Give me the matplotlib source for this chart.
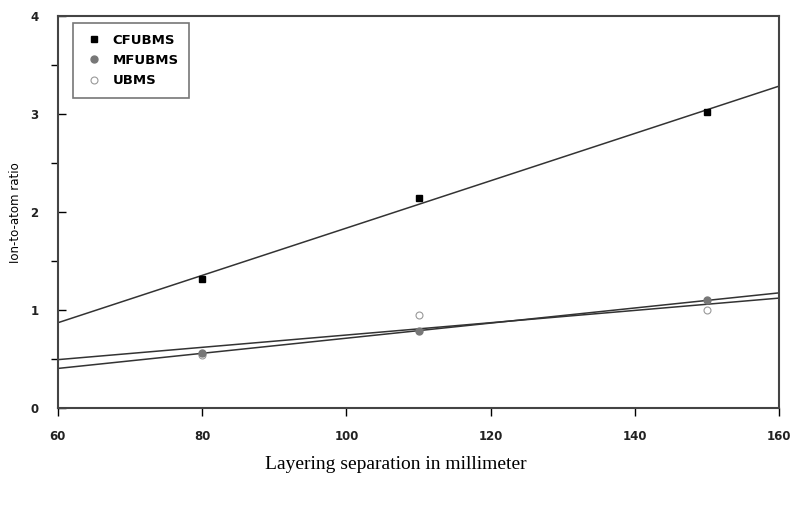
import matplotlib.pyplot as plt
import numpy as np

# Layering separation (mm) and measured ion-to-atom ratios
separation = [80, 110, 150]
cfubms = [1.32, 2.14, 3.02]
mfubms = [0.56, 0.79, 1.10]
ubms = [0.54, 0.95, 1.00]

fig = plt.figure(figsize=(7.92, 5.07), dpi=100)
ax = fig.add_axes([0.073, 0.195, 0.911, 0.773])

xfit = np.array([60, 160])

# Linear fits drawn first, markers on top
for y in (cfubms, mfubms, ubms):
    k, b = np.polyfit(separation, y, 1)
    ax.plot(xfit, k * xfit + b, color='#333333', lw=1.1, zorder=2)

ax.plot(separation, cfubms, 's', color='black', ms=5, label='CFUBMS', zorder=4)
ax.plot(separation, mfubms, 'o', color='#777777', ms=5, label='MFUBMS', zorder=4)
ax.plot(separation, ubms, 'o', mfc='white', mec='#999999', ms=5, mew=0.8,
        label='UBMS', zorder=3)

ax.set_xlim(60, 160)
ax.set_ylim(0, 4)
ax.set_xticks([60, 80, 100, 120, 140, 160])
ax.set_yticks([0, 1, 2, 3, 4])
ax.set_yticks([0.5, 1.5, 2.5, 3.5], minor=True)
ax.tick_params(axis='y', which='major', direction='in', length=6, width=1, pad=14)
ax.tick_params(axis='y', which='minor', direction='out', length=5, width=1)
ax.tick_params(axis='x', which='major', direction='out', length=6, width=1, pad=10)
for lab in ax.get_xticklabels() + ax.get_yticklabels():
    lab.set_fontweight('bold')
    lab.set_fontsize(8.5)
    lab.set_color('#222222')

for s in ax.spines.values():
    s.set_linewidth(1.5)
    s.set_color('#444444')

ax.set_ylabel('Ion-to-atom ratio', fontsize=8.5, labelpad=6)
fig.text(0.5, 0.075, 'Layering separation in millimeter', ha='center',
         fontsize=14, family='Liberation Serif')

leg = ax.legend(loc='upper left', bbox_to_anchor=(0.021, 0.982), fancybox=False,
                edgecolor='#555555', prop={'weight': 'bold', 'size': 9.5},
                handlelength=1.6, handletextpad=0.6, borderpad=0.8,
                labelspacing=0.55, borderaxespad=0)
leg.get_frame().set_linewidth(1.2)

fig.savefig('out.png', dpi=100)
